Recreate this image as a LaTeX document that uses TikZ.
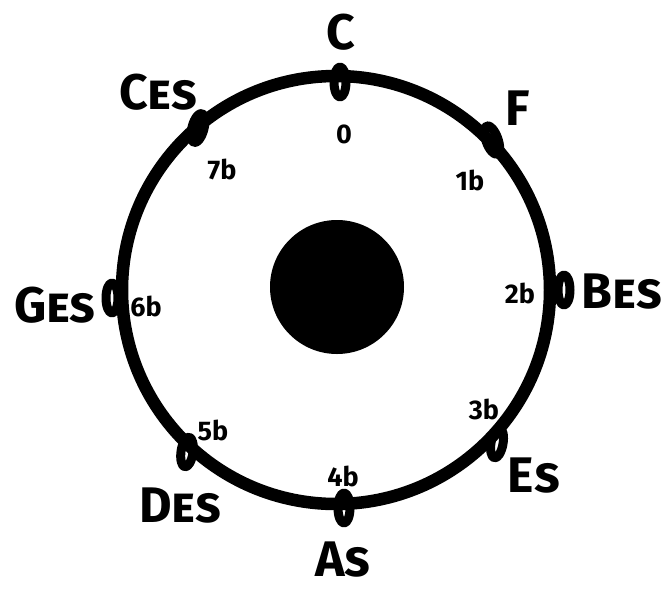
\documentclass[tikz,border=0pt]{standalone}
\usepackage{fontspec}
\newfontfamily\keyfont{Fira Sans}[Letters=SmallCaps]
\newfontfamily\flatfont{Fira Sans}

\begin{document}
\begin{tikzpicture}[
  x=1pt,
  y=-1pt,
  line join=round,
  line cap=round,
  ring/.style={draw=black,line width=12.5pt},
  knot/.style={draw=black,line width=9pt},
  keyname/.style={font=\keyfont\bfseries\fontsize{50}{50}\selectfont,inner sep=0pt},
  flatcount/.style={font=\flatfont\bfseries\fontsize{27}{27}\selectfont,inner sep=0pt}
]
  \useasboundingbox (0,0) rectangle (670,590);

  % Circle and centre disc.
  \coordinate (mid) at (336,290);
  \draw[ring] (mid) circle[radius=214];
  \fill[black] (337,287) circle[radius=67];

  % Marker positions on the circle.
  \coordinate (kC) at (340,82);
  \coordinate (kF) at (492,140);
  \coordinate (kBes) at (564,290);
  \coordinate (kEs) at (497,443);
  \coordinate (kAs) at (344,508);
  \coordinate (kDes) at (187,452);
  \coordinate (kGes) at (112,298);
  \coordinate (kCes) at (198,128);

  % Small rings on the circle.
  \foreach \p/\a in {kC/0,kF/20,kBes/0,kEs/-10,kAs/0,kDes/-8,kGes/0,kCes/-15} {
    \draw[knot,rotate around={\a:(\p)}] (\p) ellipse[x radius=6,y radius=15];
  }

  % Key names.
  \node[keyname] (C) at (341,32) {C};
  \node[keyname] (F) at (518,108) {F};
  \node[keyname] (Bes) at (622,292) {Bes};
  \node[keyname] (Es) at (534,476) {Es};
  \node[keyname] (As) at (343,560) {As};
  \node[keyname] (Des) at (180,506) {Des};
  \node[keyname] (Ges) at (55,305) {Ges};
  \node[keyname] (Ces) at (158,92) {Ces};

  % Number of flats.
  \node[flatcount] (n0) at (344,134) {0};
  \node[flatcount] (n1) at (470,180) {1b};
  \node[flatcount] (n2) at (520,293) {2b};
  \node[flatcount] (n3) at (484,409) {3b};
  \node[flatcount] (n4) at (343,476) {4b};
  \node[flatcount] (n5) at (213,430) {5b};
  \node[flatcount] (n6) at (146,306) {6b};
  \node[flatcount] (n7) at (222,169) {7b};
\end{tikzpicture}
\end{document}
